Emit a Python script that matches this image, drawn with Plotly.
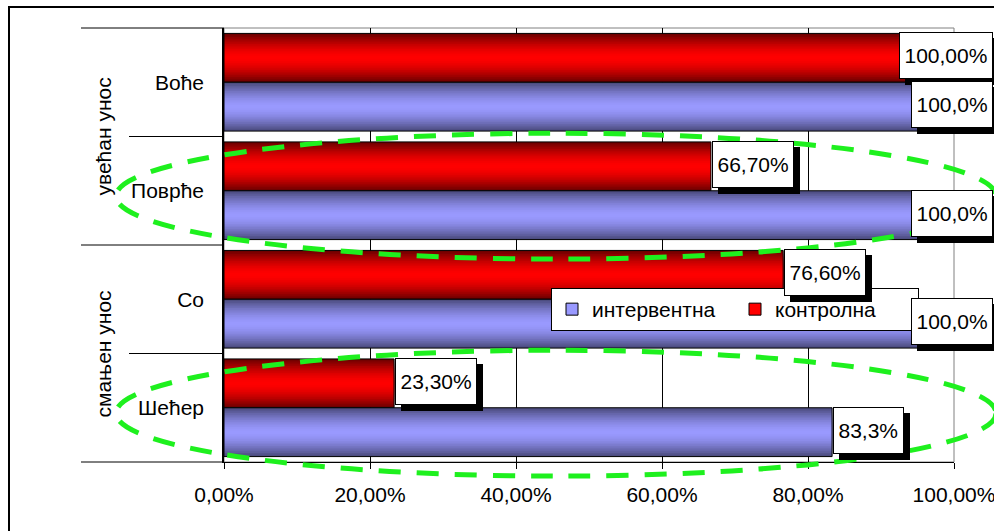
import plotly.graph_objects as go

# ==============================================================================
# 1. DATA
# ==============================================================================

CATEGORIES = ['Воће', 'Поврће', 'Со', 'Шећер']          # top to bottom
GROUPS = ['увећан унос', 'смањен унос']                  # each spans 2 categories
GROUP_SIZE = 2

SERIES_NAMES = ['интервентна', 'контролна']
INTERVENTNA = [1.000, 1.000, 1.000, 0.833]
KONTROLNA = [1.000, 0.667, 0.766, 0.233]
INTERVENTNA_LABELS = ['100,0%', '100,0%', '100,0%', '83,3%']
KONTROLNA_LABELS = ['100,00%', '66,70%', '76,60%', '23,30%']

X_TICKS = [0, 0.2, 0.4, 0.6, 0.8, 1.0]
X_TICK_LABELS = ['0,00%', '20,00%', '40,00%', '60,00%', '80,00%', '100,00%']

# categories marked with the green dashed ellipse
HIGHLIGHTED = ['Поврће', 'Шећер']

# ==============================================================================
# 2. STYLE / LAYOUT CONSTANTS
# ==============================================================================

FIG_W, FIG_H = 994, 531
MARGIN = dict(l=224, r=40, t=28, b=69)
PLOT_W = FIG_W - MARGIN['l'] - MARGIN['r']
PLOT_H = FIG_H - MARGIN['t'] - MARGIN['b']

FONT = 'Liberation Sans, Arial, sans-serif'
FONT_SIZE = 21

BAR_W = 0.45          # thickness of one bar in category units
N_LAYERS = 14         # layers used to fake the cylinder gradient

RED_EDGE, RED_CENTER = (0x66, 0x00, 0x00), (0xFF, 0x00, 0x00)
BLUE_EDGE, BLUE_CENTER = (0x48, 0x48, 0x78), (0x99, 0x99, 0xFF)

N_CAT = len(CATEGORIES)
Y_RANGE = [-0.5, N_CAT - 0.5]

# rough Arial advance widths (em) for the label boxes
CHAR_W = {',': 0.278, '%': 0.889}


# ==============================================================================
# 3. HELPERS
# ==============================================================================

def y_pos(i):
    """Category index (top=0) -> numeric y position."""
    return N_CAT - 1 - i


def y_paper(y):
    return (y - Y_RANGE[0]) / (Y_RANGE[1] - Y_RANGE[0])


def px_x(px):
    """Horizontal pixel offset from plot left edge -> paper units."""
    return px / PLOT_W


def px_y(px):
    """Pixel offset below the plot top -> paper units."""
    return 1 - px / PLOT_H


def mix(edge, center, t):
    s = t ** 1.6
    r, g, b = (round(c + (e - c) * s) for e, c in zip(edge, center))
    return f'rgb({r},{g},{b})'


def text_width(s):
    return sum(CHAR_W.get(ch, 0.556) for ch in s) * FONT_SIZE


def add_cylinder_bars(fig, values, edge, center, side):
    """side=+1 -> bar sits above the category centre, -1 -> below."""
    ys = [y_pos(i) for i in range(N_CAT)]
    base = 0 if side > 0 else -BAR_W
    for k in range(N_LAYERS):
        w = BAR_W * (N_LAYERS - k) / N_LAYERS
        t = (N_LAYERS - k - 0.5) / N_LAYERS
        fig.add_trace(go.Bar(
            x=values, y=ys, orientation='h',
            width=w, offset=base + (BAR_W - w) / 2,
            marker=dict(color=mix(edge, center, t), line=dict(width=0)),
            showlegend=False, hoverinfo='skip',
        ))
    # outline on top
    fig.add_trace(go.Bar(
        x=values, y=ys, orientation='h', width=BAR_W, offset=base,
        marker=dict(color='rgba(0,0,0,0)', line=dict(color='black', width=1)),
        showlegend=False, hoverinfo='skip',
    ))


def add_value_labels(fig, values, labels, side):
    pad = 2
    right_edge = (FIG_W - MARGIN['l']) / PLOT_W
    for i, (v, txt) in enumerate(zip(values, labels)):
        yc = y_pos(i) + side * BAR_W / 2
        w = text_width(txt) + 5
        box_w = w + 2 * pad + 2
        fits = v * PLOT_W + 1 + box_w <= FIG_W - MARGIN['l']
        if fits:
            pos = dict(x=v, xref='x', xanchor='left')
            dx = 1
        else:
            pos = dict(x=right_edge, xref='paper', xanchor='right')
            dx = -1
        common = dict(y=yc, yref='y', yanchor='middle', showarrow=False,
                      width=w, height=41, borderpad=pad, borderwidth=1,
                      bordercolor='black', align='center',
                      font=dict(family=FONT, size=FONT_SIZE, color='black'))
        # shadow box (no text), then the white box with the value
        fig.add_annotation(**pos, **common, text=' ', bgcolor='black',
                           xshift=dx + 6, yshift=2 - 6)
        fig.add_annotation(**pos, **common, text=txt, bgcolor='white',
                           xshift=dx, yshift=2)


# ==============================================================================
# 4. BUILD FIGURE
# ==============================================================================

fig = go.Figure()

add_cylinder_bars(fig, KONTROLNA, RED_EDGE, RED_CENTER, +1)
add_cylinder_bars(fig, INTERVENTNA, BLUE_EDGE, BLUE_CENTER, -1)

# legend entries only
for name, col in zip(SERIES_NAMES, [BLUE_CENTER, RED_CENTER]):
    fig.add_trace(go.Bar(
        x=[None], y=[None], orientation='h', name=name,
        marker=dict(color='rgb(%d,%d,%d)' % col, line=dict(color='black', width=1)),
    ))

add_value_labels(fig, KONTROLNA, KONTROLNA_LABELS, +1)
add_value_labels(fig, INTERVENTNA, INTERVENTNA_LABELS, -1)

shapes = []
# grey plot-area frame (covers the 100% gridline)
shapes.append(dict(type='rect', xref='paper', yref='paper', x0=0, x1=1, y0=0, y1=1,
                   line=dict(color='#808080', width=1), layer='below'))
# category / group dividers left of the axis
for b in range(N_CAT + 1):
    y = y_paper(N_CAT - 0.5 - b)
    x0 = px_x(-143) if b % GROUP_SIZE == 0 else px_x(-95)
    shapes.append(dict(type='line', xref='paper', yref='paper', x0=x0, x1=0, y0=y, y1=y,
                       line=dict(color='black', width=1)))
# outer chart border (left / top visible only)
shapes.append(dict(type='rect', xref='paper', yref='paper',
                   x0=px_x(-215), x1=2, y0=px_y(-21), y1=-2,
                   line=dict(color='black', width=2)))
# green dashed ellipses
for cat in HIGHLIGHTED:
    yc = y_pos(CATEGORIES.index(cat)) - 0.05
    shapes.append(dict(type='circle', xref='paper', yref='paper',
                       x0=px_x(-108), x1=px_x(772),
                       y0=y_paper(yc - 0.58), y1=y_paper(yc + 0.58),
                       line=dict(color='#1EF01E', width=5, dash='22px,16px'),
                       layer='above'))

# rotated group labels
for g, name in enumerate(GROUPS):
    first = g * GROUP_SIZE
    yc = (y_pos(first) + y_pos(first + GROUP_SIZE - 1)) / 2
    fig.add_annotation(x=px_x(-121), y=y_paper(yc), xref='paper', yref='paper',
                       xanchor='center', yanchor='middle',
                       text=name, textangle=-90, showarrow=False,
                       font=dict(family=FONT, size=FONT_SIZE, color='black'))

fig.update_layout(
    width=FIG_W, height=FIG_H, margin=MARGIN,
    barmode='overlay',
    paper_bgcolor='white', plot_bgcolor='white',
    font=dict(family=FONT, size=FONT_SIZE, color='black'),
    shapes=shapes,
    legend=dict(orientation='h', x=px_x(327), y=px_y(260),
                xanchor='left', yanchor='top', bgcolor='white',
                bordercolor='black', borderwidth=1, entrywidth=138,
                traceorder='normal', font=dict(size=FONT_SIZE)),
    xaxis=dict(range=[0, 1], tickvals=X_TICKS, ticktext=X_TICK_LABELS,
               showgrid=True, gridcolor='black', gridwidth=1,
               showline=True, linecolor='black', linewidth=1,
               ticks='outside', ticklen=6, tickcolor='black',
               zeroline=False, fixedrange=True, automargin=False,
               ticklabelstandoff=8, ticklabeloverflow='allow'),
    yaxis=dict(range=Y_RANGE, tickvals=[y_pos(i) for i in range(N_CAT)],
               ticktext=CATEGORIES, showgrid=False, zeroline=False,
               showline=True, linecolor='black', linewidth=1.5,
               ticks='', ticklabelstandoff=14, fixedrange=True, automargin=False),
)

fig.write_html("out.html", config={'displayModeBar': False},
               post_script="document.body.style.margin='0';document.body.style.overflow='hidden';")
